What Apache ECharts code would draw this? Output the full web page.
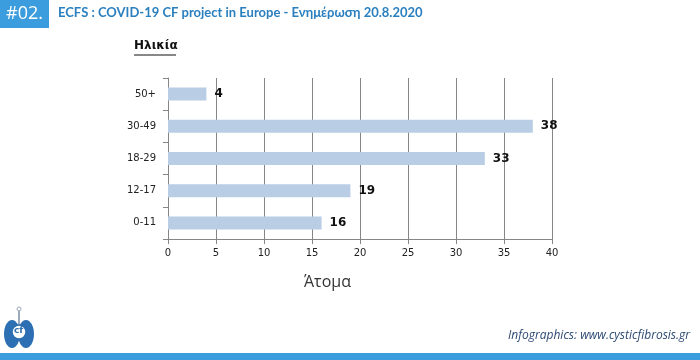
<!DOCTYPE html>
<html><head><meta charset="utf-8">
<script src="https://cdn.jsdelivr.net/npm/echarts@6/dist/echarts.min.js"></script>
<style>html,body{margin:0;padding:0;background:#fff}#c{width:700px;height:360px}</style>
</head><body><div id="c"></div>
<script>
const categories = ['0-11', '12-17', '18-29', '30-49', '50+'];
const values = [16, 19, 33, 38, 4];
const xTicks = [0, 5, 10, 15, 20, 25, 30, 35, 40];
const titleText = 'ECFS : COVID-19 CF project in Europe - Ενημέρωση 20.8.2020';
const subTitle = 'Ηλικία';
const xName = 'Άτομα';
const footer = 'Infographics: www.cysticfibrosis.gr';

const chart = echarts.init(document.getElementById('c'), null, {renderer: 'canvas'});
chart.setOption({
  animation: false,
  backgroundColor: '#fff',
  grid: {left: 168, top: 78, width: 384, height: 161},
  xAxis: {
    type: 'value', min: xTicks[0], max: xTicks[xTicks.length - 1], interval: 5,
    axisLine: {show: true, lineStyle: {color: '#868686'}},
    axisTick: {show: true, length: 5, lineStyle: {color: '#868686'}},
    splitLine: {show: true, lineStyle: {color: '#868686', width: 1}},
    axisLabel: {color: '#222', fontFamily: 'DejaVu Sans', fontSize: 10, margin: 9}
  },
  yAxis: {
    type: 'category', data: categories,
    axisLine: {show: true, lineStyle: {color: '#868686'}},
    axisTick: {show: true, length: 5, lineStyle: {color: '#868686'}},
    axisLabel: {color: '#222', fontFamily: 'DejaVu Sans', fontSize: 10, margin: 12}
  },
  series: [{
    type: 'bar', data: values, barWidth: 13,
    itemStyle: {color: '#b9cde5'},
    label: {show: true, position: 'right', distance: 8, color: '#111', fontWeight: 'bold',
            fontFamily: 'DejaVu Sans', fontSize: 12}
  }],
  graphic: [
    {type: 'rect', shape: {x: 0, y: 0, width: 49, height: 28}, style: {fill: '#3b9ddd'}},
    {type: 'text', left: 6, top: 5, style: {text: '#02.', fill: '#fff', font: '18px "Open Sans", sans-serif'}},
    {type: 'text', left: 58, top: 6, style: {text: titleText, fill: '#2a7fbf', font: 'bold 13px Lato, sans-serif'}},
    {type: 'text', left: 134, top: 40, style: {text: subTitle, fill: '#111', font: 'bold 12px "DejaVu Sans", sans-serif'}},
    {type: 'line', shape: {x1: 134, y1: 55, x2: 176, y2: 55}, style: {stroke: '#111', lineWidth: 1}},
    {type: 'text', left: 304, top: 274, style: {text: xName, fill: '#333', font: '16px "Open Sans", sans-serif'}},
    {type: 'text', right: 10, top: 330, style: {text: footer, fill: '#2d4a73', font: 'italic 12px "Open Sans", sans-serif'}},
    {type: 'rect', shape: {x: 0, y: 353, width: 700, height: 7}, style: {fill: '#3b9ddd'}},
    // logo
    {type: 'line', shape: {x1: 19, y1: 310, x2: 19, y2: 325}, style: {stroke: '#9aa9bb', lineWidth: 2}},
    {type: 'circle', shape: {cx: 19, cy: 309, r: 2}, style: {fill: '#fff', stroke: '#9aa9bb', lineWidth: 1}},
    {type: 'ellipse', shape: {cx: 12, cy: 334, rx: 8, ry: 14}, style: {fill: '#2c6fb3'}},
    {type: 'ellipse', shape: {cx: 26, cy: 334, rx: 8, ry: 14}, style: {fill: '#2c6fb3'}},
    {type: 'circle', shape: {cx: 19, cy: 332, r: 7}, style: {fill: '#fff', stroke: '#2c6fb3', lineWidth: 1.5}},
    {type: 'text', left: 14, top: 326, style: {text: 'cf', fill: '#2c6fb3', font: 'bold 9px "DejaVu Sans", sans-serif'}}
  ]
});
</script></body></html>
